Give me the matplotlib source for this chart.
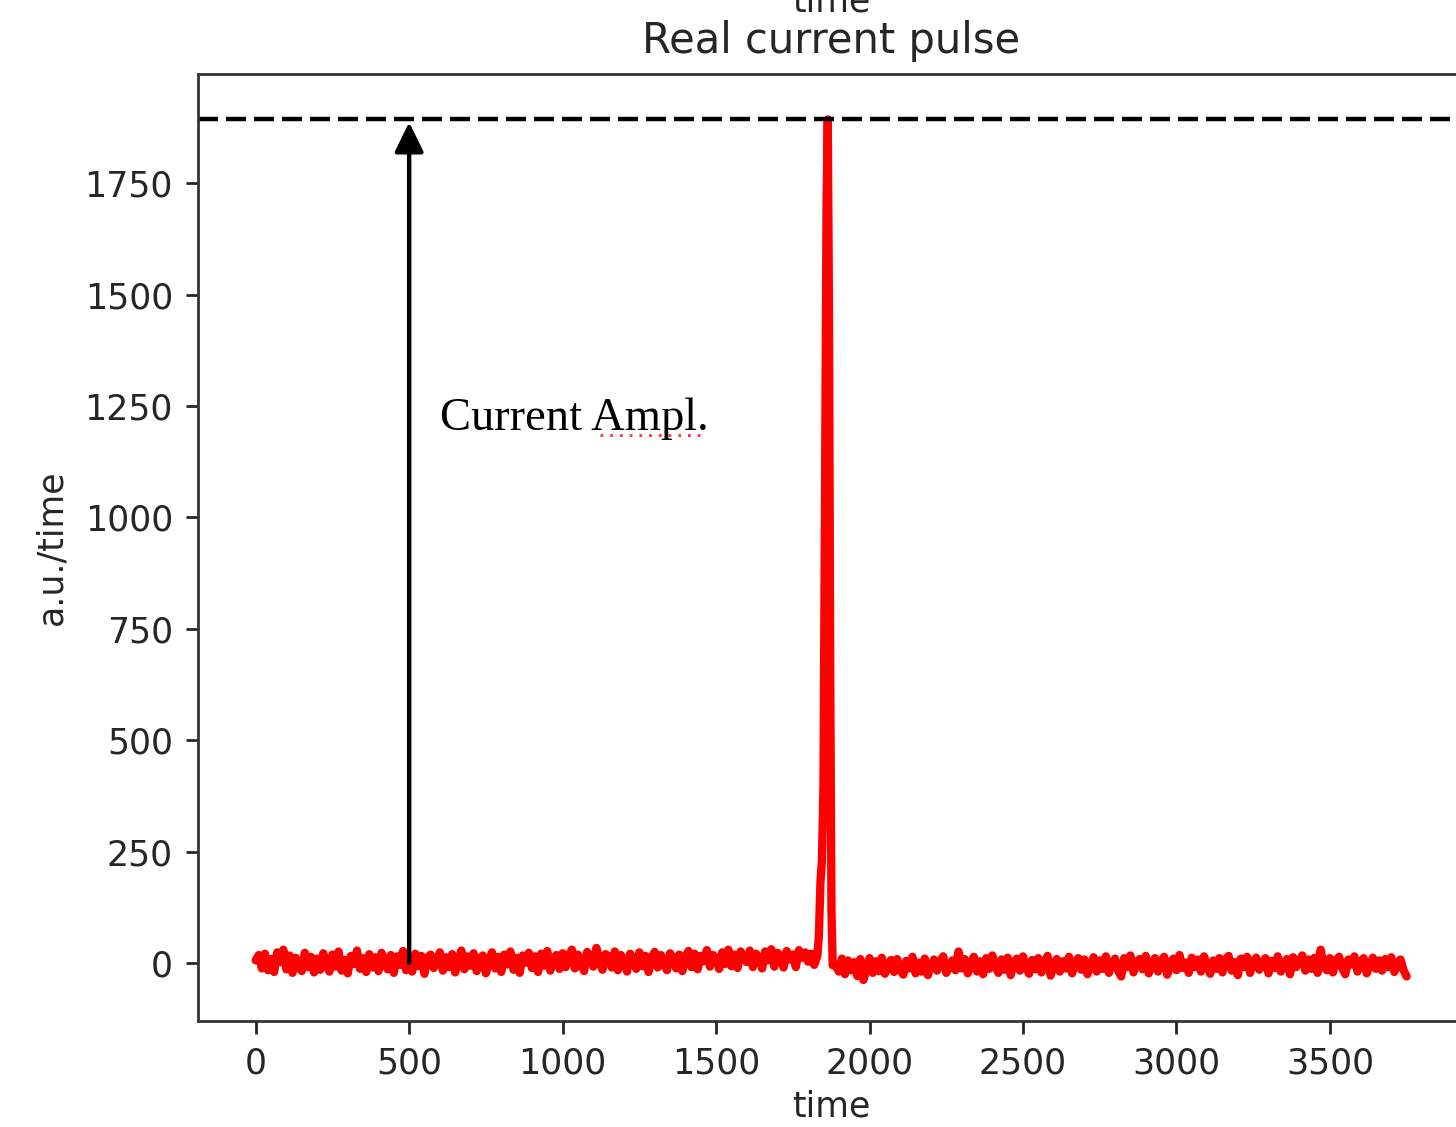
import numpy as np
import matplotlib
matplotlib.use("Agg")
import matplotlib.pyplot as plt

# ---------------- data ----------------
# baseline before the pulse, sampled every 10 time units from t=0 to t=1830
pre_start, pre_step = 0, 10
pre_values = [
    6, 18, -12, 21, -16, 9, -20, 24, 2, 30, -14, 17, -22, 12, -5, -18, 23, -9, 14, -21,
    10, -15, 22, -3, -19, 19, -8, 26, -17, 7, -23, 16, -2, 28, -13, 11, -20, 20, -10, 13,
    -18, 23, 0, -14, 18, -22, 15, -4, 27, -16, 9, -19, 21, -7, 16, -24, 12, 19, -11, 5,
    24, -17, 13, -9, 20, -21, 8, 28, -14, 15, -6, 22, -18, 10, 17, -23, 4, 24, -12, 14,
    -20, 19, -3, 26, -15, 12, -22, 17, 1, 23, -11, 15, -20, 21, -6, 27, -17, 10, 18, -13,
    22, -9, 16, 30, -12, 19, -2, -18, 25, 11, -8, 34, 6, -15, 20, 14, -10, 26, -16, 18,
    5, -19, 21, 9, -13, 24, -7, 16, -20, 12, 25, -10, 18, -1, -16, 22, 10, -12, 19, -18,
    14, 27, -9, 21, -14, 16, 4, 29, -8, 18, 10, -13, 24, -2, 30, -7, 19, -11, 26, 11,
    2, 28, -9, 21, 13, -12, 26, 6, 31, -8, 23, 15, -10, 27, 8, 19, -9, 29, 12, 24,
    3, 21, -4, 16,
]

# the pulse itself
pulse_t = [1835, 1840, 1845, 1850, 1855, 1860, 1864, 1868, 1872, 1876, 1880]
pulse_values = [60, 180, 230, 400, 1050, 1700, 1893, 1450, 650, 120, -5]

# baseline after the pulse, every 10 time units from t=1890 to t=3750
post_start, post_step = 1890, 10
post_values = [
    -4, -19, 10, -25, 6, -16, 2, -29, 9, -38, -14, 11, -22, 4, -18, 12, -24, -8, 7, -20,
    9, -15, -26, 5, -12, 14, -23, 1, -19, 10, -27, -6, 8, -17, 3, 15, -22, -9, 6, -16,
    26, -12, 9, -23, -1, 14, -19, 4, -25, 11, -13, 17, -7, -22, 8, -15, 12, -27, 2, 10,
    -17, 15, -9, -24, 7, -14, 11, -21, 1, 16, -28, -6, 9, -19, 4, -12, 14, -23, 0, 11,
    -15, 8, -25, -5, 13, -19, 6, -13, 15, -22, -1, 10, -17, -30, 11, -9, 17, -21, 2, 9,
    -14, 16, -23, -4, 11, -19, 3, 14, -26, -2, 10, -16, 18, -11, 1, -22, 12, -9, 8, -19,
    15, -6, -24, 6, -13, 11, -21, 8, 16, -17, 2, -27, 10, -9, 14, -22, 3, 12, -15, -3,
    11, -23, 5, -11, 15, -19, -2, 9, -25, 13, -9, 4, 17, -17, 8, -13, 12, -22, 30, -6,
    -16, 11, -21, 6, 14, -11, -25, 8, -3, 15, -19, 3, 11, -23, -5, 12, -13, 6, -17, 9,
    -9, 13, -20, -1, 8, -16, -30,
]

arrow_x = 500
x_ticks = [0, 500, 1000, 1500, 2000, 2500, 3000, 3500]
y_ticks = [0, 250, 500, 750, 1000, 1250, 1500, 1750]

title_text = "Real current pulse"
xlabel_text = "time"
ylabel_text = "a.u./time"
top_cut_text = "time"
annot_text = "Current Ampl."

# ---------------- assemble series ----------------
pre_t = pre_start + pre_step * np.arange(len(pre_values))
post_t = post_start + post_step * np.arange(len(post_values))
t = np.concatenate([pre_t, pulse_t, post_t])
signal = np.concatenate([pre_values, pulse_values, post_values]).astype(float)
peak = signal.max()

# ---------------- figure ----------------
W, H = 1456, 1127
fig = plt.figure(figsize=(W / 100, H / 100), dpi=100)
ax = fig.add_axes([198 / W, (H - 1021) / H, (1464 - 198) / W, 947 / H])

text_color = "#262626"

ax.plot(t, signal, color="red", lw=6, solid_capstyle="round", solid_joinstyle="round")
ax.axhline(peak, color="black", lw=3.2, dashes=(4.5, 1.8))
ax.annotate("", xy=(arrow_x, peak), xytext=(arrow_x, 0),
            arrowprops=dict(arrowstyle="-|>,head_length=0.45,head_width=0.22",
                            mutation_scale=40, lw=3.2, color="black",
                            shrinkA=0, shrinkB=2))
ax.text(600, 1196, annot_text, fontfamily="Liberation Serif", fontsize=33.5,
        color="black", ha="left", va="baseline")
# spell-check style dotted underline under "Ampl."
ax.plot([0.3175, 0.398], [0.619, 0.619], transform=ax.transAxes, color="red",
        lw=2, ls=(0, (1, 2.5)), alpha=0.8)

ax.set_xlim(-188, 3937)
ax.set_ylim(-130, 1995)
ax.set_xticks(x_ticks)
ax.set_yticks(y_ticks)
ax.tick_params(axis="both", length=9, width=2, pad=9, labelsize=25,
               colors=text_color, labelcolor=text_color)
for s in ax.spines.values():
    s.set_linewidth(2)
    s.set_color("#333333")

ax.set_title(title_text, fontsize=30, color=text_color, pad=15)
ax.set_xlabel(xlabel_text, fontsize=25, color=text_color, labelpad=7)
ax.set_ylabel(ylabel_text, fontsize=25, color=text_color, labelpad=12)

# cut-off label of the panel above
fig.text(831 / W, 1 - 12 / H, top_cut_text, fontsize=25, color=text_color,
         ha="center", va="baseline")

fig.savefig("out.png", dpi=100)
